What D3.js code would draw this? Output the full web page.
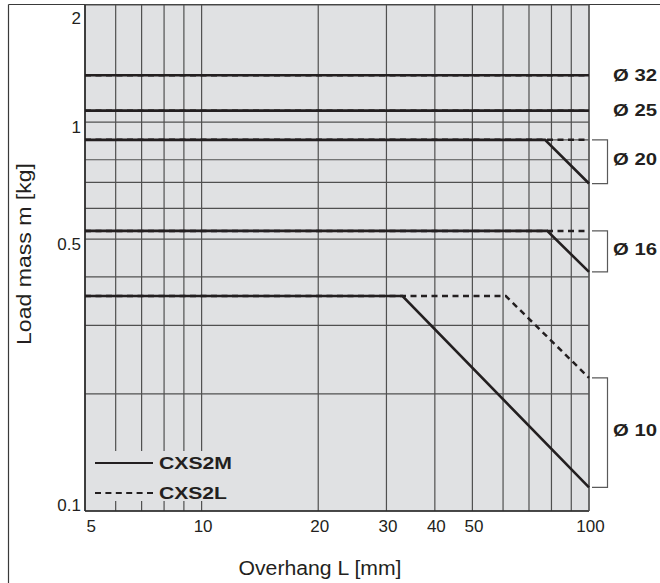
<!DOCTYPE html>
<html><head><meta charset="utf-8">
<script src="https://cdn.jsdelivr.net/npm/d3@7"></script>
<style>
html,body{margin:0;padding:0;background:#fff;}
svg{display:block;}
text{font-family:"Liberation Sans",Arial,sans-serif;fill:#231f20;}
</style></head>
<body>
<svg id="chart" width="660" height="583"></svg>
<script>
// ---- data ----
const xTickValues = [5, 10, 20, 30, 40, 50, 100];
const xGridValues = [5, 6, 7, 8, 9, 10, 20, 30, 40, 50, 60, 70, 80, 90, 100];
const yTickValues = [0.1, 0.5, 1, 2];
const yGridValues = [0.1, 0.2, 0.3, 0.4, 0.5, 0.6, 0.7, 0.8, 0.9, 1, 2];
const bores = ["Ø 32", "Ø 25", "Ø 20", "Ø 16", "Ø 10"];
const flatMass = [1.32, 1.07, 0.9, 0.525, 0.357];     // kg, allowable until break
const breakM = [100, 100, 77, 78, 33];               // mm, CXS2M break point
const endMassM = [1.32, 1.07, 0.695, 0.412, 0.115];  // kg at L=100, CXS2M
const breakL = [100, 100, 100, 100, 61];             // mm, CXS2L break point
const endMassL = [1.32, 1.07, 0.9, 0.525, 0.22];     // kg at L=100, CXS2L
const seriesNames = ["CXS2M", "CXS2L"];
const xTitle = "Overhang L [mm]";
const yTitle = "Load mass m [kg]";

// ---- layout ----
const svg = d3.select("#chart");
const pLeft = 85, pRight = 589, pTop = 5, pBottom = 511;
const x = d3.scaleLog().domain([5, 100]).range([pLeft, pRight]);
const y = d3.scaleLog().domain([0.1, 2]).range([pBottom, pTop]);

// outer frame
svg.append("line").attr("x1", 8.5).attr("x2", 660).attr("y1", 4.5).attr("y2", 4.5)
  .attr("stroke", "#3a3a3a").attr("stroke-width", 1.2);
svg.append("line").attr("x1", 8.5).attr("x2", 8.5).attr("y1", 4.5).attr("y2", 583)
  .attr("stroke", "#3a3a3a").attr("stroke-width", 1.2);

// plot background
svg.append("rect").attr("x", pLeft).attr("y", pTop).attr("width", pRight - pLeft).attr("height", pBottom - pTop)
  .attr("fill", "#e0e1e3");

const grid = svg.append("g");
grid.selectAll("line.v").data(xGridValues).join("line").attr("class", "v")
  .attr("x1", d => x(d)).attr("x2", d => x(d)).attr("y1", pTop).attr("y2", pBottom)
  .attr("stroke", "#505050").attr("stroke-width", 1.2);
grid.selectAll("line.h").data(yGridValues).join("line").attr("class", "h")
  .attr("x1", pLeft).attr("x2", pRight).attr("y1", d => y(d)).attr("y2", d => y(d))
  .attr("stroke", "#505050").attr("stroke-width", 1.2);

// legend background (interrupts grid)
const legX = x(5) + 1, legY = y(0.1) - 60;
svg.append("rect").attr("x", legX).attr("y", legY).attr("width", 150).attr("height", 50)
  .attr("fill", "#e0e1e3");

// borders
svg.append("line").attr("x1", pLeft).attr("x2", pLeft).attr("y1", pTop).attr("y2", pBottom)
  .attr("stroke", "#2a2a2a").attr("stroke-width", 1.6);
svg.append("line").attr("x1", pLeft).attr("x2", pRight).attr("y1", pBottom).attr("y2", pBottom)
  .attr("stroke", "#2a2a2a").attr("stroke-width", 1.6);
svg.append("line").attr("x1", pRight).attr("x2", pRight).attr("y1", pTop).attr("y2", pBottom)
  .attr("stroke", "#555").attr("stroke-width", 1.2);

// axes labels
const xAxis = d3.axisBottom(x).tickValues(xTickValues).tickFormat(d3.format("d")).tickSize(0).tickPadding(0);
const gx = svg.append("g").attr("transform", `translate(0,${pBottom})`).call(xAxis);
gx.select(".domain").remove();
gx.selectAll("text").attr("font-size", 17).attr("fill", "#231f20")
  .attr("font-family", "Liberation Sans, Arial, sans-serif")
  .attr("y", 21).attr("dy", 0)
  .attr("text-anchor", d => d === 5 ? "start" : "middle")
  .attr("dx", 1);

const yAxis = d3.axisLeft(y).tickValues(yTickValues).tickFormat(d => d).tickSize(0).tickPadding(0);
const gy = svg.append("g").attr("transform", `translate(${pLeft - 4},0)`).call(yAxis);
gy.select(".domain").remove();
gy.selectAll("text").attr("font-size", 17).attr("fill", "#231f20")
  .attr("font-family", "Liberation Sans, Arial, sans-serif")
  .attr("dy", d => d === 0.1 ? "-0.05em" : d === 2 ? "1.1em" : "0.62em");

// titles
svg.append("text").attr("x", 320).attr("y", 575).attr("text-anchor", "middle")
  .attr("font-size", 20).attr("textLength", 163).attr("lengthAdjust", "spacingAndGlyphs").text(xTitle);
svg.append("text").attr("transform", "translate(31,254) rotate(-90)").attr("text-anchor", "middle")
  .attr("font-size", 20).attr("textLength", 182).attr("lengthAdjust", "spacingAndGlyphs").text(yTitle);

// data lines
const line = d3.line().x(d => x(d[0])).y(d => y(d[1]));
const lineColor = "#231f20";
const ptsL = bores.map((b, i) => [[5, flatMass[i]], [breakL[i], flatMass[i]], [100, endMassL[i]]]);
const ptsM = bores.map((b, i) => [[5, flatMass[i]], [breakM[i], flatMass[i]], [100, endMassM[i]]]);
svg.append("g").selectAll("path").data(ptsL).join("path")
  .attr("d", line).attr("fill", "none").attr("stroke", lineColor).attr("stroke-width", 2.5)
  .attr("stroke-dasharray", "6,4.5");
svg.append("g").selectAll("path").data(ptsM).join("path")
  .attr("d", line).attr("fill", "none").attr("stroke", lineColor).attr("stroke-width", 2.6);

// brackets & bore labels
const bx0 = pRight + 3, bx1 = pRight + 18.5;
bores.forEach((b, i) => {
  let yl;
  if (endMassM[i] !== endMassL[i]) {
    const y0 = y(endMassL[i]), y1 = y(endMassM[i]);
    svg.append("path").attr("d", `M${bx0},${y0}H${bx1}V${y1}H${bx0}`)
      .attr("fill", "none").attr("stroke", "#5a5a5a").attr("stroke-width", 1.2);
    yl = (y0 + y1) / 2 - 2;
  } else {
    yl = y(flatMass[i]);
  }
  svg.append("text").attr("x", 613).attr("y", yl).attr("dy", "0.36em")
    .attr("font-size", 16).attr("font-weight", "bold")
    .attr("textLength", 44).attr("lengthAdjust", "spacingAndGlyphs").text(b);
});

// legend
const leg = svg.append("g");
seriesNames.forEach((n, i) => {
  const ly = legY + 12 + i * 30;
  leg.append("line").attr("x1", 95).attr("x2", 153).attr("y1", ly).attr("y2", ly)
    .attr("stroke", lineColor).attr("stroke-width", 2)
    .attr("stroke-dasharray", i === 1 ? "6,4.4" : null);
  leg.append("text").attr("x", 159).attr("y", ly).attr("dy", "0.36em")
    .attr("font-size", 16).attr("font-weight", "bold")
    .attr("textLength", i === 0 ? 73 : 68).attr("lengthAdjust", "spacingAndGlyphs").text(n);
});
</script>
</body></html>
